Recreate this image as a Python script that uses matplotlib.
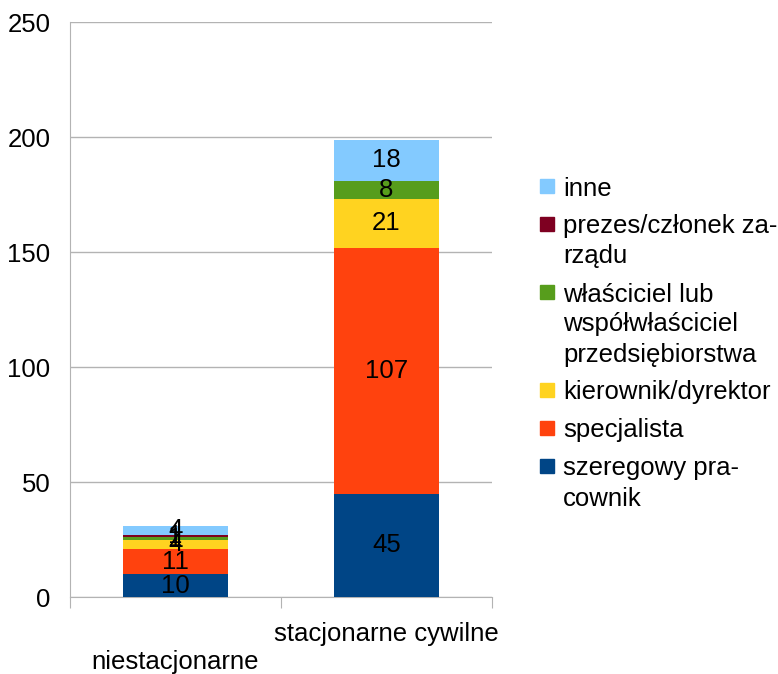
import matplotlib
matplotlib.use("Agg")
import matplotlib.pyplot as plt
from matplotlib.patches import Rectangle
import numpy as np

plt.rcParams['font.family'] = ['Liberation Sans', 'DejaVu Sans']

categories = ["niestacjonarne", "stacjonarne cywilne"]
series_names = ["szeregowy pra-\ncownik", "specjalista", "kierownik/dyrektor",
                "właściciel lub\nwspółwłaściciel\nprzedsiębiorstwa",
                "prezes/członek za-\nrządu", "inne"]
values = [
    [10, 45],
    [11, 107],
    [4, 21],
    [1, 8],
    [1, 0],
    [4, 18],
]
colors = ["#004586", "#ff420e", "#ffd320", "#579d1c", "#7e0021", "#83caff"]
yticks = [0, 50, 100, 150, 200, 250]

FS = 18.5
W, H = 778, 674
fig = plt.figure(figsize=(W / 100, H / 100), dpi=100)
ax = fig.add_axes([0.09, 0.114, 0.542, 0.853])

x = np.arange(len(categories))
bottom = np.zeros(len(categories))
for name, vals, col in zip(series_names, values, colors):
    vals = np.array(vals, dtype=float)
    ax.bar(x, vals, 0.5, bottom=bottom, color=col, zorder=3, label=name)
    for xi, v, bt in zip(x, vals, bottom):
        if v > 0:
            ax.text(xi, bt + v / 2, f"{int(v)}", ha="center", va="center",
                    fontsize=FS, color="black", zorder=4)
    bottom += vals

ax.set_xlim(-0.5, 1.5)
ax.set_ylim(0, 250)
ax.set_yticks(yticks)
ax.tick_params(axis='y', length=0, labelsize=FS, pad=14)
ax.yaxis.grid(True, color="#b3b3b3", linewidth=1, zorder=0)
for s in ["top", "right"]:
    ax.spines[s].set_visible(False)
ax.spines["left"].set_color("#b3b3b3")
ax.spines["bottom"].set_color("#b3b3b3")

ax.set_xticks([-0.5, 0.5, 1.5])
ax.set_xticklabels([])
ax.tick_params(axis='x', length=8, color="#b3b3b3")
ax.set_xticks(x, minor=True)
ax.set_xticklabels(categories, minor=True, fontsize=FS)
ax.tick_params(axis='x', which='minor', length=0)
labs = ax.get_xticklabels(minor=True)
labs[0].set_y(-0.083)
labs[1].set_y(-0.035)

# Legend (reverse order, first line aligned with marker)
leg_x_px, text_x_px = 540, 563
y_px = 186
line_px, item_gap_px = 30, 38
for name, col in zip(series_names[::-1], colors[::-1]):
    lines = name.split("\n")
    sq = 14
    fig.patches.append(Rectangle((leg_x_px / W, 1 - (y_px + sq / 2) / H), sq / W, sq / H,
                                 transform=fig.transFigure, color=col, figure=fig))
    for i, ln in enumerate(lines):
        fig.text(text_x_px / W, 1 - (y_px + i * line_px) / H, ln, fontsize=FS,
                 ha="left", va="center_baseline")
    y_px += (len(lines) - 1) * line_px + item_gap_px

fig.savefig("out.png", dpi=100)
